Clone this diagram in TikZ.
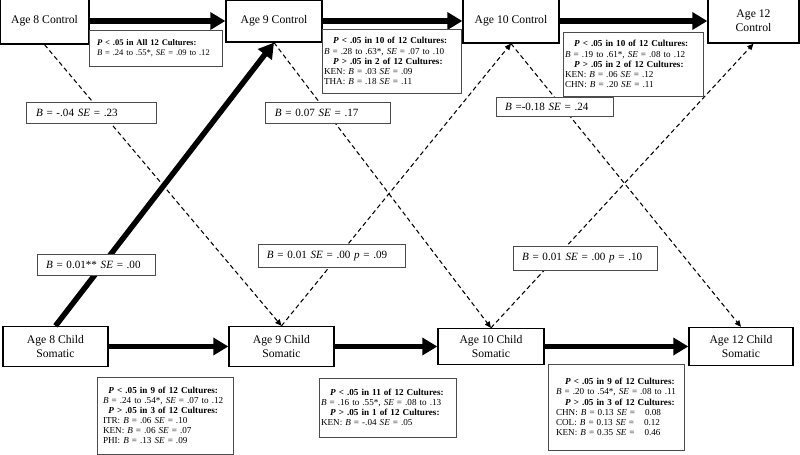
\documentclass[tikz,border=0pt]{standalone}
\usepackage{fontspec}
\setmainfont{Liberation Serif}
\usetikzlibrary{arrows.meta}

\tikzset{
    main/.style={draw, line width=0.9pt, align=center, inner sep=0pt,
        font=\fontsize{8.3}{10}\selectfont},
    stats/.style={draw=black!70, line width=0.5pt, fill=white, align=left,
        inner ysep=0pt, font=\fontsize{6.5}{7.2}\selectfont},
    coef/.style={draw=black!70, line width=0.5pt, fill=white, align=left,
        inner ysep=0pt, font=\fontsize{7.9}{10}\selectfont},
    bigarrow/.style={line width=3.9pt, -{Triangle[length=10.7pt,width=12pt]}},
    dasharrow/.style={line width=0.75pt, dash pattern=on 3.2pt off 2.2pt,
        -{Triangle[length=4.5pt,width=4pt]}}
}

\begin{document}
\begin{tikzpicture}[x=0.7113pt, y=-0.7113pt]
    % Define pixel size and text macros
    \def\px{0.7113pt}
    \def\ib{\textit{B}}
    \def\ise{\textit{SE}}
    \def\ip{\textit{P}}
    \useasboundingbox (0,0) rectangle (800,455);

    % Control boxes (top row)
    \node[main, minimum width=89*\px, minimum height=46*\px] (c8) at (44.5,21) {Age 8 Control};
    \node[main, minimum width=96*\px, minimum height=42*\px] (c9) at (274,21) {Age 9 Control};
    \node[main, minimum width=96*\px, minimum height=44*\px] (c10) at (511,21) {Age 10 Control};
    \node[main, minimum width=91*\px, minimum height=44*\px] (c12) at (753.5,21) {Age 12\\Control};

    % Somatic boxes (bottom row)
    \node[main, minimum width=105*\px, minimum height=40*\px] (s8) at (55.5,346.5) {Age 8 Child\\Somatic};
    \node[main, minimum width=105*\px, minimum height=40*\px] (s9) at (281.5,346.5) {Age 9 Child\\Somatic};
    \node[main, minimum width=106*\px, minimum height=36*\px] (s10) at (491,346.5) {Age 10 Child\\Somatic};
    \node[main, minimum width=104*\px, minimum height=38*\px] (s12) at (741,346.5) {Age 12 Child\\Somatic};

    % Stability paths
    \draw[bigarrow] (c8) -- (c9);
    \draw[bigarrow] (c9) -- (c10);
    \draw[bigarrow] (c10) -- (c12);
    \draw[bigarrow] (s8) -- (s9);
    \draw[bigarrow] (s9) -- (s10);
    \draw[bigarrow] (s10) -- (s12);

    % Cross-lagged paths
    \draw[bigarrow] (s8.north) -- (c9.south);
    \draw[dasharrow] (c8.south) -- (s9.north);
    \draw[dasharrow] (c9.south) -- (s10.north);
    \draw[dasharrow] (c10.south) -- (s12.north);
    \draw[dasharrow] (s9.north) -- (c10.south);
    \draw[dasharrow] (s10.north) -- (c12.south);

    % Coefficient labels
    \node[coef, minimum height=21*\px, inner xsep=7.1pt, text width=78.2pt] (b1) at (91,112.5) {\ib{} = -.04 \ise{} = .23};
    \node[coef, minimum height=21*\px, inner xsep=7.1pt, text width=74.7pt] (b2) at (327.5,112.5) {\ib{} = 0.07 \ise{} = .17};
    \node[coef, minimum height=19*\px, inner xsep=6.4pt, text width=70.4pt] (b3) at (554.5,106.5) {\ib{} =-0.18 \ise{} = .24};
    \node[coef, minimum height=21*\px, inner xsep=6.4pt, text width=71.1pt] (b4) at (96,264.5) {\ib{} = 0.01** \ise{} = .00};
    \node[coef, minimum height=23*\px, inner xsep=6.4pt, text width=91.8pt] (b5) at (331.5,255.5) {\ib{} = 0.01 \ise{} = .00 \textit{p} = .09};
    \node[coef, minimum height=24*\px, inner xsep=6.4pt, text width=89.6pt] (b6) at (585,258) {\ib{} = 0.01 \ise{} = .00 \textit{p} = .10};

    % Culture results, control paths
    \node[stats, minimum height=36*\px, inner xsep=5.7pt, text width=83.2pt,
        font=\fontsize{6.1}{7}\selectfont] (t8) at (155.5,48) {
        \textbf{\ip{} < .05 in All 12 Cultures:}\\
        \ib{} = .24 to .55*, \ise{} = .09 to .12};
    \node[stats, minimum height=64*\px, inner xsep=1.4pt, text width=96pt] (t9) at (391.5,61) {
        \hspace*{1em}\textbf{\ip{} < .05 in 10 of 12 Cultures:}\\
        \ib{} = .28 to .63*, \ise{} = .07 to .10\\
        \hspace*{1em}\textbf{\ip{} > .05 in 2 of 12 Cultures:}\\
        KEN: \ib{} = .03 \ise{} = .09\\
        THA: \ib{} = .18 \ise{} = .11};
    \node[stats, minimum height=64*\px, inner xsep=1.4pt, text width=96.7pt] (t10) at (633,64) {
        \hspace*{1em}\textbf{\ip{} < .05 in 10 of 12 Cultures:}\\
        \ib{} = .19 to .61*, \ise{} = .08 to .12\\
        \hspace*{1em}\textbf{\ip{} > .05 in 2 of 12 Cultures:}\\
        KEN: \ib{} = .06 \ise{} = .12\\
        CHN: \ib{} = .20 \ise{} = .11};

    % Culture results, somatic paths
    \node[stats, minimum height=77*\px, inner xsep=4.3pt, text width=88.2pt] (u8) at (165,415.5) {
        \hspace*{0.6em}\textbf{\ip{} < .05 in 9 of 12 Cultures:}\\
        \ib{} = .24 to .54*, \ise{} = .07 to .12\\
        \hspace*{0.6em}\textbf{\ip{} > .05 in 3 of 12 Cultures:}\\
        ITR: \ib{} = .06 \ise{} = .10\\
        KEN: \ib{} = .06 \ise{} = .07\\
        PHI: \ib{} = .13 \ise{} = .09};
    \node[stats, minimum height=59*\px, inner xsep=1.4pt, text width=94.6pt] (u9) at (387.5,407.5) {
        \hspace*{1em}\textbf{\ip{} < .05 in 11 of 12 Cultures:}\\
        \ib{} = .16 to .55*, \ise{} = .08 to .13\\
        \hspace*{1em}\textbf{\ip{} > .05 in 1 of 12 Cultures:}\\
        KEN: \ib{} = -.04 \ise{} = .05};
    \node[stats, minimum height=86*\px, inner xsep=5.7pt, text width=85.3pt] (u10) at (616,407) {
        \hspace*{1em}\textbf{\ip{} < .05 in 9 of 12 Cultures:}\\
        \ib{} = .20 to .54*, \ise{} = .08 to .11\\
        \hspace*{1em}\textbf{\ip{} > .05 in 3 of 12 Cultures:}\\
        CHN: \ib{} = 0.13 \ise{} = \hspace{0.75em}0.08\\
        COL: \ib{} = 0.13 \ise{} = \hspace{0.75em}0.12\\
        KEN: \ib{} = 0.35 \ise{} = \hspace{0.75em}0.46};

\end{tikzpicture}
\end{document}
